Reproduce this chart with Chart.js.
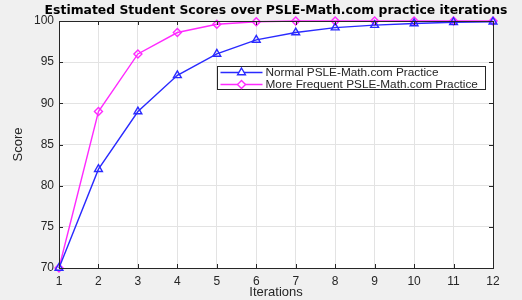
<!DOCTYPE html>
<html>
<head>
<meta charset="utf-8">
<script src="https://cdn.jsdelivr.net/npm/chart.js@4/dist/chart.umd.min.js"></script>
<style>
  html, body { margin: 0; padding: 0; background: #f0f0f0; }
  canvas { display: block; }
</style>
</head>
<body>
<canvas id="scoreChart" width="522" height="300"></canvas>
<script>
// 데이터: 반복 횟수와 두 가지 연습 방식의 예상 점수
const iterations = [1, 2, 3, 4, 5, 6, 7, 8, 9, 10, 11, 12];
const normalScores = [70, 82, 89, 93.4, 96, 97.7, 98.6, 99.2, 99.5, 99.7, 99.85, 99.9];
const frequentScores = [70, 89, 96, 98.6, 99.6, 99.9, 100, 100, 100, 100, 100, 100];
const yTicks = [70, 75, 80, 85, 90, 95, 100];
const chartTitle = 'Estimated Student Scores over PSLE-Math.com practice iterations';

const FONT = 'Arial, "Liberation Sans", sans-serif';
const textColor = '#262626';

// 배경과 흰색 플롯 영역, 테두리, 안쪽 눈금, 제목을 그리는 플러그인
const matlabFrame = {
    id: 'matlabFrame',
    beforeDraw(chart) {
        const { ctx, chartArea: a } = chart;
        ctx.save();
        ctx.fillStyle = '#f0f0f0';
        ctx.fillRect(0, 0, chart.width, chart.height);
        ctx.fillStyle = '#ffffff';
        ctx.fillRect(a.left, a.top, a.right - a.left, a.bottom - a.top);
        // 제목은 플롯 영역 가운데 위에 (MATLAB 방식)
        ctx.fillStyle = '#000000';
        ctx.font = 'bold 12.4px "DejaVu Sans", Verdana, sans-serif';
        ctx.textAlign = 'center';
        ctx.textBaseline = 'middle';
        ctx.fillText(chartTitle, (a.left + a.right) / 2, 11);
        ctx.restore();
    },
    afterDatasetsDraw(chart) {
        const { ctx, chartArea: a, scales } = chart;
        ctx.save();
        ctx.strokeStyle = textColor;
        ctx.lineWidth = 1;
        ctx.strokeRect(Math.round(a.left) + 0.5, Math.round(a.top) + 0.5,
            Math.round(a.right - a.left), Math.round(a.bottom - a.top));
        // 안쪽으로 향하는 눈금
        ctx.beginPath();
        scales.x.ticks.forEach((t, i) => {
            const x = Math.round(scales.x.getPixelForTick(i)) + 0.5;
            ctx.moveTo(x, a.bottom); ctx.lineTo(x, a.bottom - 4);
            ctx.moveTo(x, a.top); ctx.lineTo(x, a.top + 4);
        });
        scales.y.ticks.forEach((t, i) => {
            const y = Math.round(scales.y.getPixelForTick(i)) + 0.5;
            ctx.moveTo(a.left, y); ctx.lineTo(a.left + 4, y);
            ctx.moveTo(a.right, y); ctx.lineTo(a.right - 4, y);
        });
        ctx.stroke();
        ctx.restore();
    }
};

// 플롯 안쪽 오른쪽 위에 MATLAB 스타일 범례를 그리는 플러그인
const insideLegend = {
    id: 'insideLegend',
    afterDraw(chart) {
        const { ctx, chartArea: a } = chart;
        const boxW = 268, boxH = 23;
        const left = Math.round(a.right - 8 - boxW) + 0.5;
        const top = Math.round(a.top + 45) + 0.5;
        ctx.save();
        ctx.fillStyle = '#ffffff';
        ctx.fillRect(left, top, boxW, boxH);
        ctx.strokeStyle = textColor;
        ctx.lineWidth = 1;
        ctx.strokeRect(left, top, boxW, boxH);
        ctx.font = '11.8px ' + FONT;
        ctx.textBaseline = 'middle';
        chart.data.datasets.forEach((ds, i) => {
            const y = top + 6 + i * 12;
            ctx.strokeStyle = ds.borderColor;
            ctx.lineWidth = ds.borderWidth;
            ctx.beginPath();
            ctx.moveTo(left + 3, y);
            ctx.lineTo(left + 45, y);
            ctx.stroke();
            ctx.fillStyle = '#ffffff';
            Chart.helpers.drawPoint(ctx, {
                pointStyle: ds.pointStyle,
                radius: ds.pointRadius,
                borderWidth: ds.pointBorderWidth
            }, left + 24, y);
            ctx.fillStyle = textColor;
            ctx.fillText(ds.label, left + 48, y + 0.5);
        });
        ctx.restore();
    }
};

const ctx = document.getElementById('scoreChart').getContext('2d');
new Chart(ctx, {
    type: 'line',
    data: {
        labels: iterations,
        datasets: [
            {
                label: 'Normal PSLE-Math.com Practice',
                data: normalScores,
                borderColor: '#2a2aff',
                backgroundColor: 'rgba(0,0,0,0)',
                borderWidth: 1.4,
                pointStyle: 'triangle',
                pointRadius: 4.5,
                pointBorderWidth: 1.4,
                tension: 0
            },
            {
                label: 'More Frequent PSLE-Math.com Practice',
                data: frequentScores,
                borderColor: '#ff2aff',
                backgroundColor: 'rgba(0,0,0,0)',
                borderWidth: 1.4,
                pointStyle: 'rectRot',
                pointRadius: 4,
                pointBorderWidth: 1.4,
                tension: 0
            }
        ]
    },
    options: {
        responsive: false,
        animation: false,
        clip: false,
        layout: { padding: { left: 0, right: 29, top: 21, bottom: 0 } },
        plugins: {
            legend: { display: false },
            tooltip: { enabled: false },
            title: { display: false }
        },
        scales: {
            x: {
                offset: false,
                grid: { color: '#e3e3e3', drawTicks: false },
                border: { display: false },
                ticks: { color: textColor, font: { family: FONT, size: 12 }, padding: 6, maxRotation: 0 },
                title: {
                    display: true,
                    text: 'Iterations',
                    color: textColor,
                    font: { family: FONT, size: 13 },
                    padding: { top: 0, bottom: 0 }
                },
                afterFit(scale) { scale.height = 32; }
            },
            y: {
                min: 70,
                max: 100,
                afterBuildTicks(scale) { scale.ticks = yTicks.map(v => ({ value: v })); },
                grid: { color: '#e3e3e3', drawTicks: false },
                border: { display: false },
                ticks: { color: textColor, font: { family: FONT, size: 12 }, padding: 5 },
                title: {
                    display: true,
                    text: 'Score',
                    color: textColor,
                    font: { family: FONT, size: 13 },
                    padding: { top: 11, bottom: 0 }
                },
                afterFit(scale) { scale.width = 59; }
            }
        }
    },
    plugins: [matlabFrame, insideLegend]
});
</script>
</body>
</html>
